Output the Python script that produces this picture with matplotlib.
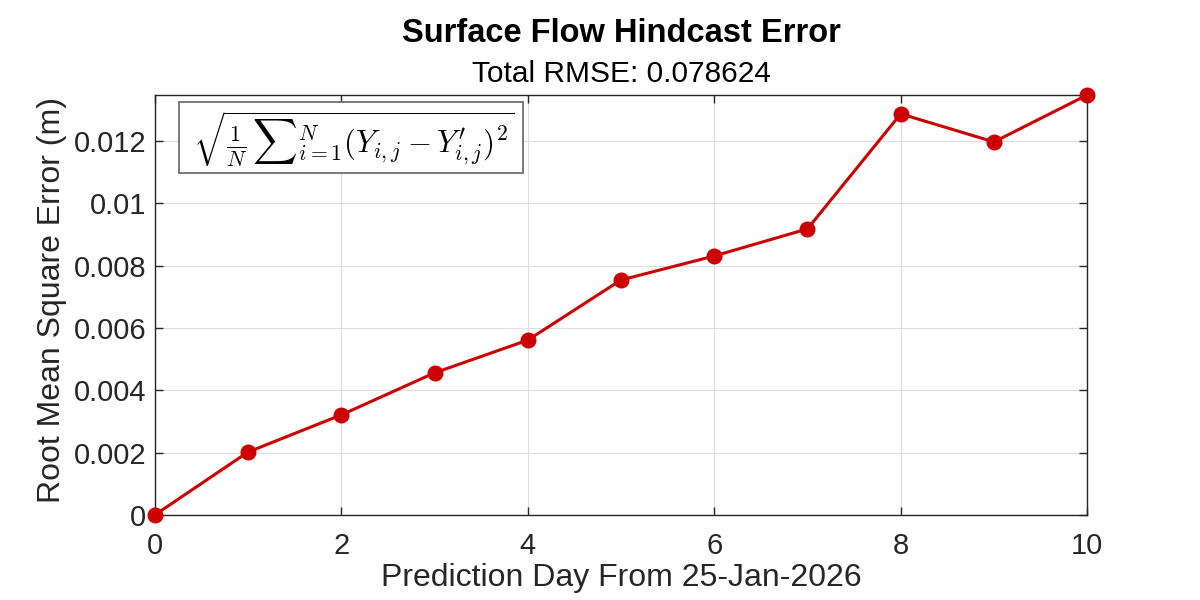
import matplotlib
matplotlib.use("Agg")
import matplotlib.pyplot as plt
from matplotlib.patches import Rectangle

days = [0, 1, 2, 3, 4, 5, 6, 7, 8, 9, 10]
rmse = [0.0, 0.00202, 0.00321, 0.00456, 0.00561, 0.00754, 0.00831, 0.00918, 0.01287, 0.01197, 0.013476]
yticks = [0, 0.002, 0.004, 0.006, 0.008, 0.01, 0.012]
ytick_labels = ["0", "0.002", "0.004", "0.006", "0.008", "0.01", "0.012"]
xticks = [0, 2, 4, 6, 8, 10]
title = "Surface Flow Hindcast Error"
subtitle = "Total RMSE: 0.078624"
xlabel = "Prediction Day From 25-Jan-2026"
ylabel = "Root Mean Square Error (m)"
formula = r"$\sqrt{\frac{1}{N}\,{\sum}_{i=1}^{N}(Y_{i,j}-Y^{\prime}_{i,j})^2}$"

plt.rcParams['font.family'] = ['Liberation Sans', 'DejaVu Sans']
plt.rcParams['mathtext.fontset'] = 'cm'

fig = plt.figure(figsize=(12, 6), dpi=100)
ax = fig.add_axes([0.129, 0.1417, 0.777, 0.70])
ax.plot(days, rmse, color='#CC0000', lw=2.2, marker='o', ms=10.5, zorder=3, clip_on=False)
ax.set_xlim(0, 10)
ax.set_ylim(0, max(rmse))
ax.set_xticks(xticks)
ax.set_yticks(yticks)
ax.set_yticklabels(ytick_labels)
ax.grid(True, color='#DEDEDE', lw=0.8)
ax.set_axisbelow(True)
ax.tick_params(direction='in', top=True, right=True, length=6, width=1, labelsize=21, colors='#262626')
ax.tick_params(axis='y', pad=6)
ax.tick_params(axis='x', pad=12)
for s in ax.spines.values():
    s.set_color('#262626')
    s.set_linewidth(1)
fig.text(0.5175, 1 - 578 / 600, xlabel, ha='center', va='center', fontsize=23, color='#262626')
fig.text(52 / 1200, 1 - 300 / 600, ylabel, ha='center', va='center', rotation=90, fontsize=23, color='#262626')
fig.text(0.5175, 1 - 33 / 600, title, ha='center', va='center', fontsize=23.5, fontweight='bold')
fig.text(0.5175, 1 - 74 / 600, subtitle, ha='center', va='center', fontsize=21.5)
fig.patches.append(Rectangle((179 / 1200, 1 - 173 / 600), 344 / 1200, 71 / 600, transform=fig.transFigure,
                             fc='white', ec='#6E6E6E', lw=1.3, zorder=5))
fig.text(193 / 1200, 1 - 139 / 600, formula, ha='left', va='center', fontsize=22.3, zorder=6)
fig.savefig('out.png', dpi=100)
